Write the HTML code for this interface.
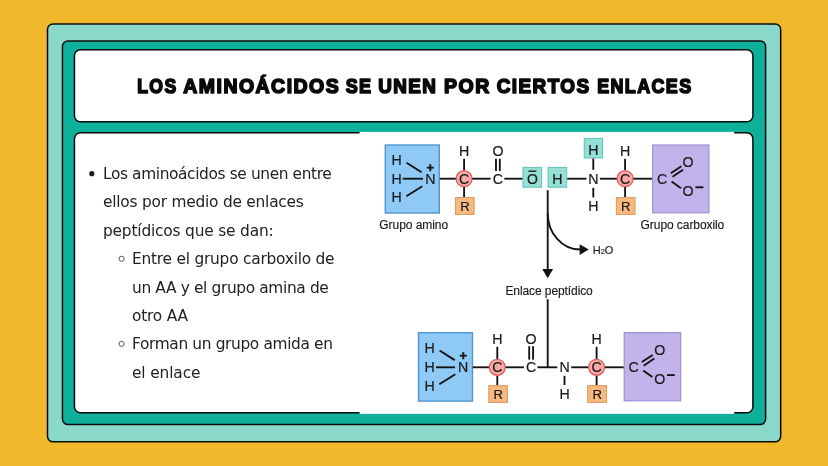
<!DOCTYPE html>
<html lang="es">
<head>
<meta charset="utf-8">
<title>Los aminoácidos se unen por ciertos enlaces</title>
<style>
html,body{margin:0;padding:0;}
body{width:828px;height:466px;overflow:hidden;background:#f2b82b;position:relative;font-family:"Liberation Sans",sans-serif;}
.abs{position:absolute;box-sizing:border-box;}
.ln,#title,#diagram{will-change:transform;}
#title{left:135px;top:65px;width:600px;height:40px;margin:0;font-size:0;line-height:0;}
.ln{position:absolute;white-space:nowrap;font-family:"DejaVu Sans","Liberation Sans",sans-serif;font-size:15.4px;line-height:20px;height:20px;color:#222;margin:0;-webkit-text-stroke:0px #222;word-spacing:0px;}
#diagram{left:359px;top:132px;}
#diagram text{font-family:"Liberation Sans",sans-serif;fill:#1a1a1a;}
</style>
</head>
<body>
<svg class="abs" id="frames" style="left:0;top:0" width="828" height="466" viewBox="0 0 828 466">
<g stroke="#0b0b0b" stroke-width="1.5">
<rect x="47.50" y="23.95" width="733.20" height="417.85" rx="5.6" fill="#8ad8ca"/>
<rect x="62.45" y="40.90" width="703.15" height="383.70" rx="5.6" fill="#0fb09a"/>
<rect x="74.45" y="49.65" width="678.45" height="72.15" rx="6" fill="#ffffff"/>
<rect x="74.45" y="132.65" width="678.45" height="280.20" rx="6" fill="#ffffff"/>
</g>
<rect x="359.6" y="131.9" width="374.6" height="282" fill="#ffffff"/>
<circle cx="91.8" cy="173.7" r="2.6" fill="#1c1c1c"/>
<circle cx="121.6" cy="258.8" r="2.55" fill="none" stroke="#4a4a4a" stroke-width="0.95"/>
<circle cx="121.6" cy="343.9" r="2.55" fill="none" stroke="#4a4a4a" stroke-width="0.95"/>
</svg>
<h1 class="abs" id="title"><svg width="600" height="40" viewBox="0 0 600 40"><g font-family="Liberation Sans, sans-serif" font-weight="bold" font-size="20.9" letter-spacing="1.6" fill="#0a0a0a" stroke="#0a0a0a" stroke-width="1.7" stroke-linejoin="round"><text transform="translate(2.27,28.4) scale(0.8423,1)">LOS</text> <text transform="translate(48.28,28.4) scale(0.9310,1)">AMINOÁCIDOS</text> <text transform="translate(210.67,28.4) scale(0.8622,1)">SE</text> <text transform="translate(243.22,28.4) scale(0.9017,1)">UNEN</text> <text transform="translate(308.99,28.4) scale(0.9338,1)">POR</text> <text transform="translate(361.66,28.4) scale(0.9059,1)">CIERTOS</text> <text transform="translate(462.20,28.4) scale(0.8585,1)">ENLACES</text></g></svg></h1>

<p class="ln" id="l1" style="left:102.52px;top:164.10px;letter-spacing:-0.382px;">Los aminoácidos se unen entre</p>
<p class="ln" id="l2" style="left:102.98px;top:192.40px;letter-spacing:-0.230px;">ellos por medio de enlaces</p>
<p class="ln" id="l3" style="left:102.98px;top:220.80px;letter-spacing:-0.187px;">peptídicos que se dan:</p>
<p class="ln" id="l4" style="left:132.32px;top:249.20px;letter-spacing:-0.230px;">Entre el grupo carboxilo de</p>
<p class="ln" id="l5" style="left:132.18px;top:277.60px;letter-spacing:-0.356px;">un AA y el grupo amina de</p>
<p class="ln" id="l6" style="left:132.18px;top:305.90px;letter-spacing:-0.200px;">otro AA</p>
<p class="ln" id="l7" style="left:132.32px;top:334.30px;letter-spacing:-0.357px;">Forman un grupo amida en</p>
<p class="ln" id="l8" style="left:132.18px;top:362.70px;letter-spacing:-0.134px;">el enlace</p>

<svg class="abs" id="diagram" width="376" height="282" viewBox="359 132 376 282">
<g stroke="#111" stroke-width="1.85" fill="none" stroke-linecap="butt">
  <!-- ===== top molecule 1 ===== -->
  <rect x="385.3" y="145" width="54" height="68" fill="#8fcaf6" stroke="#5196cf" stroke-width="1.4"/>
  <line x1="406.5" y1="162.7" x2="421.6" y2="172.2"/>
  <line x1="402.6" y1="178.7" x2="423" y2="178.7"/>
  <line x1="406.3" y1="196.2" x2="422.3" y2="186.3"/>
  <line x1="439.9" y1="178.7" x2="456" y2="178.7"/>
  <line x1="464.1" y1="158.8" x2="464.1" y2="170.5"/>
  <line x1="464.1" y1="187" x2="464.1" y2="197.5"/>
  <circle cx="464.1" cy="178.7" r="8" fill="#f7aaa6" stroke="#e65a5f" stroke-width="1.3"/>
  <rect x="455.5" y="197.6" width="18.6" height="16.8" fill="#f6b980" stroke="#e39c5f" stroke-width="1.1"/>
  <line x1="472.3" y1="178.7" x2="490.6" y2="178.7"/>
  <line x1="496" y1="158.8" x2="496" y2="171"/>
  <line x1="499.8" y1="158.8" x2="499.8" y2="171"/>
  <line x1="504.3" y1="178.7" x2="522.8" y2="178.7"/>
  <rect x="523" y="167.4" width="18.6" height="19.8" fill="#94dfd6" stroke="#63c2b7" stroke-width="1"/>
  <line x1="528.4" y1="171.2" x2="536.4" y2="171.2" stroke-width="1.3"/>
  <!-- ===== top molecule 2 ===== -->
  <rect x="548.1" y="167.4" width="18.6" height="19.8" fill="#94dfd6" stroke="#63c2b7" stroke-width="1"/>
  <rect x="584.2" y="138.4" width="18.4" height="19.6" fill="#94dfd6" stroke="#63c2b7" stroke-width="1"/>
  <line x1="567.2" y1="178.7" x2="586.4" y2="178.7"/>
  <line x1="593.3" y1="158.6" x2="593.3" y2="169.8"/>
  <line x1="593.3" y1="187.8" x2="593.3" y2="197.4"/>
  <line x1="599.9" y1="178.7" x2="617" y2="178.7"/>
  <line x1="625.1" y1="158.8" x2="625.1" y2="170.5"/>
  <line x1="625.1" y1="187" x2="625.1" y2="197.5"/>
  <circle cx="625.1" cy="178.7" r="8" fill="#f7aaa6" stroke="#e65a5f" stroke-width="1.3"/>
  <rect x="616.4" y="197.6" width="18.6" height="16.8" fill="#f6b980" stroke="#e39c5f" stroke-width="1.1"/>
  <line x1="633.3" y1="178.7" x2="652.4" y2="178.7"/>
  <rect x="652.7" y="145" width="56.2" height="67.8" fill="#c2b4ea" stroke="#9d8fd0" stroke-width="1.2"/>
  <line x1="670.8" y1="173.3" x2="681.4" y2="166.3"/>
  <line x1="672.5" y1="176.8" x2="683.1" y2="169.8"/>
  <line x1="671.6" y1="181.6" x2="681" y2="188.2"/>
  <line x1="695.4" y1="187.3" x2="703.4" y2="187.3"/>
  <!-- ===== arrows ===== -->
  <line x1="547.7" y1="190.2" x2="547.7" y2="270"/>
  <path d="M547.7 213.2 A32.3 36.3 0 0 0 580 249.5"/>
  <polygon points="542.3,269 553.1,269 547.7,278.2" fill="#111" stroke="none"/>
  <polygon points="579.6,244.2 579.6,255 588.8,249.6" fill="#111" stroke="none"/>
  <polyline points="547.7,299.2 547.7,367.3"/>
  <!-- ===== bottom molecule ===== -->
  <rect x="418.5" y="332.7" width="54" height="68.4" fill="#8fcaf6" stroke="#5196cf" stroke-width="1.4"/>
  <line x1="439.6" y1="350.5" x2="454.7" y2="360.1"/>
  <line x1="436" y1="367.3" x2="455" y2="367.3"/>
  <line x1="439.3" y1="384.2" x2="455.3" y2="374.3"/>
  <line x1="472.7" y1="367.3" x2="489" y2="367.3"/>
  <line x1="497.3" y1="346.8" x2="497.3" y2="359"/>
  <line x1="497.3" y1="375.5" x2="497.3" y2="385.5"/>
  <circle cx="497.3" cy="367.3" r="8" fill="#f7aaa6" stroke="#e65a5f" stroke-width="1.3"/>
  <rect x="488.8" y="385.6" width="18.6" height="16.8" fill="#f6b980" stroke="#e39c5f" stroke-width="1.1"/>
  <line x1="505.6" y1="367.3" x2="523.9" y2="367.3"/>
  <line x1="529.2" y1="346.2" x2="529.2" y2="359.6"/>
  <line x1="533.1" y1="346.2" x2="533.1" y2="359.6"/>
  <line x1="537.4" y1="367.3" x2="557.3" y2="367.3"/>
  <line x1="564.5" y1="375.8" x2="564.5" y2="385"/>
  <line x1="571.2" y1="367.3" x2="588.4" y2="367.3"/>
  <line x1="596.6" y1="346.8" x2="596.6" y2="359"/>
  <line x1="596.6" y1="375.5" x2="596.6" y2="385.5"/>
  <circle cx="596.6" cy="367.3" r="8" fill="#f7aaa6" stroke="#e65a5f" stroke-width="1.3"/>
  <rect x="587.7" y="385.6" width="18.8" height="16.8" fill="#f6b980" stroke="#e39c5f" stroke-width="1.1"/>
  <line x1="604.8" y1="367.3" x2="623.9" y2="367.3"/>
  <rect x="624.2" y="332.6" width="56.5" height="68.2" fill="#c2b4ea" stroke="#9d8fd0" stroke-width="1.2"/>
  <line x1="641.9" y1="362.1" x2="652.7" y2="355"/>
  <line x1="643.7" y1="365.7" x2="654.3" y2="358.6"/>
  <line x1="643.2" y1="370.4" x2="652.4" y2="376.9"/>
  <line x1="667" y1="375.1" x2="674.8" y2="375.1"/>
</g>
<g font-size="14.2" text-anchor="middle" stroke="#1a1a1a" stroke-width="0.18">
  <!-- top molecule 1 -->
  <text x="396.5" y="165.1">H</text>
  <text x="396.5" y="183.7">H</text>
  <text x="396.5" y="201.8">H</text>
  <text x="430.4" y="183.7">N</text>
  <text x="430.2" y="171.9" font-size="13" font-weight="bold" stroke-width="0.5">+</text>
  <text x="464.1" y="155.5">H</text>
  <text x="464.1" y="183.7">C</text>
  <text x="464.9" y="210.9" font-size="13.2">R</text>
  <text x="497.9" y="155.5">O</text>
  <text x="497.9" y="183.7">C</text>
  <text x="532.4" y="184.2" font-size="14">O</text>
  <!-- top molecule 2 -->
  <text x="557.4" y="183.7">H</text>
  <text x="593.4" y="155.2">H</text>
  <text x="593.3" y="183.7">N</text>
  <text x="593.3" y="211">H</text>
  <text x="625.1" y="155.5">H</text>
  <text x="625.1" y="183.7">C</text>
  <text x="625.7" y="210.9" font-size="13.2">R</text>
  <text x="662" y="183.7">C</text>
  <text x="688" y="167">O</text>
  <text x="688" y="196">O</text>
  <!-- bottom molecule -->
  <text x="429.7" y="353">H</text>
  <text x="429.7" y="372.3">H</text>
  <text x="429.7" y="390.7">H</text>
  <text x="463" y="372.3">N</text>
  <text x="463.2" y="359.9" font-size="13" font-weight="bold" stroke-width="0.5">+</text>
  <text x="497.3" y="343.7">H</text>
  <text x="497.3" y="372.3">C</text>
  <text x="498.2" y="398.9" font-size="13.2">R</text>
  <text x="531.1" y="343.7">O</text>
  <text x="531.1" y="372.3">C</text>
  <text x="564.5" y="372.3">N</text>
  <text x="564.5" y="398.5">H</text>
  <text x="596.6" y="343.7">H</text>
  <text x="596.6" y="372.3">C</text>
  <text x="597.2" y="398.9" font-size="13.2">R</text>
  <text x="633.6" y="372.3">C</text>
  <text x="659.7" y="355.4">O</text>
  <text x="659.7" y="384.4">O</text>
</g>
<g font-size="12" stroke="#1a1a1a" stroke-width="0.15">
  <text x="379.3" y="228.9" textLength="68.8" lengthAdjust="spacing">Grupo amino</text>
  <text x="640.6" y="228.9" textLength="83.7" lengthAdjust="spacing">Grupo carboxilo</text>
  <text x="592.8" y="253.8" textLength="20.5" lengthAdjust="spacing" font-size="11">H<tspan font-size="7.5">2</tspan>O</text>
  <text x="505.4" y="295" textLength="87.4" lengthAdjust="spacing">Enlace peptídico</text>
</g>
</svg>
</body>
</html>
